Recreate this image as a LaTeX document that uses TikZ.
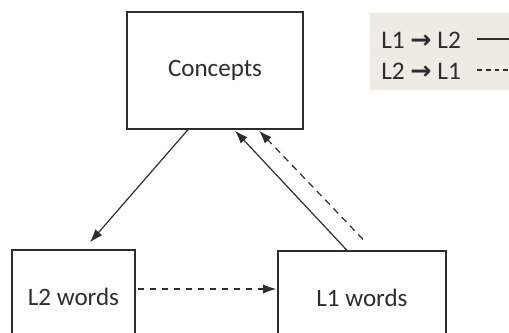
\documentclass[tikz,border=0pt]{standalone}
\usepackage{fontspec}
\setmainfont{Carlito}
\newfontfamily\symfont{DejaVu Sans}
\usepackage{xcolor}
\usepackage{tikz}
\usetikzlibrary{arrows.meta}
\usetikzlibrary{calc}
\usetikzlibrary{backgrounds}
\pgfdeclarelayer{edgelayer}
\pgfdeclarelayer{nodelayer}
\pgfsetlayers{background,edgelayer,nodelayer,main}
\definecolor{legendbg}{RGB}{238,236,226}
\definecolor{inkgrey}{RGB}{45,45,45}
\tikzstyle{none}=[inner sep=0mm]
\tikzstyle{box}=[draw=inkgrey,line width=0.9pt,fill=white,text=inkgrey,font=\fontsize{17.8}{20}\selectfont]
\tikzstyle{legtext}=[inner sep=0mm,anchor=west,text=inkgrey,font=\fontsize{18}{20}\selectfont]
\tikzstyle{link}=[draw=inkgrey,line width=0.85pt,-{Latex[length=0.33cm,width=0.23cm]}]
\tikzstyle{dlink}=[link,dash pattern=on 0.17cm off 0.13cm]
\tikzset{
	legline/.style={draw=inkgrey,line width=0.9pt},
	legdash/.style={legline,dash pattern=on 0.12cm off 0.1cm}
}

\begin{document}
\begin{tikzpicture}[x=0.025cm,y=-0.025cm]
	\useasboundingbox (0,0) rectangle (509,333);
	\begin{pgfonlayer}{background}
		\fill [legendbg] (370,13) rectangle (509,90);
	\end{pgfonlayer}
	\begin{pgfonlayer}{nodelayer}
		\node [style=box,minimum width=4.4cm,minimum height=2.925cm] (concepts) at (215,70.5) {Concepts};
		\node [style=box,minimum width=3.075cm,minimum height=2.35cm] (l2) at (73.5,297) {L2 words};
		\node [style=box,minimum width=4.2cm,minimum height=2.35cm] (l1) at (362,298) {L1 words};
		\node [style=legtext] (key1) at (381,40) {L1 {\symfont\bfseries →} L2};
		\node [style=legtext] (key2) at (381,71) {L2 {\symfont\bfseries →} L1};
		\coordinate (s1) at (477,39);
		\coordinate (e1) at (509,39);
		\coordinate (s2) at (477,70);
		\coordinate (e2) at (509,70);
	\end{pgfonlayer}
	\begin{pgfonlayer}{edgelayer}
		\draw [style=link] ($(concepts.south)+(-27,0)$) to ($(l2.north)+(16.5,-7)$);
		\draw [style=link] ($(l1.north)+(-15,0)$) to ($(concepts.south)+(20,1)$);
		\draw [style=dlink] ($(l1.north)+(1,-11)$) to ($(concepts.south)+(44,1)$);
		\draw [style=dlink] ($(l2.east)+(2,-8)$) to ($(l1.west)+(-1,-9)$);
		\draw [style=legline] (s1) to (e1);
		\draw [style=legdash] (s2) to (e2);
	\end{pgfonlayer}
\end{tikzpicture}
\end{document}
